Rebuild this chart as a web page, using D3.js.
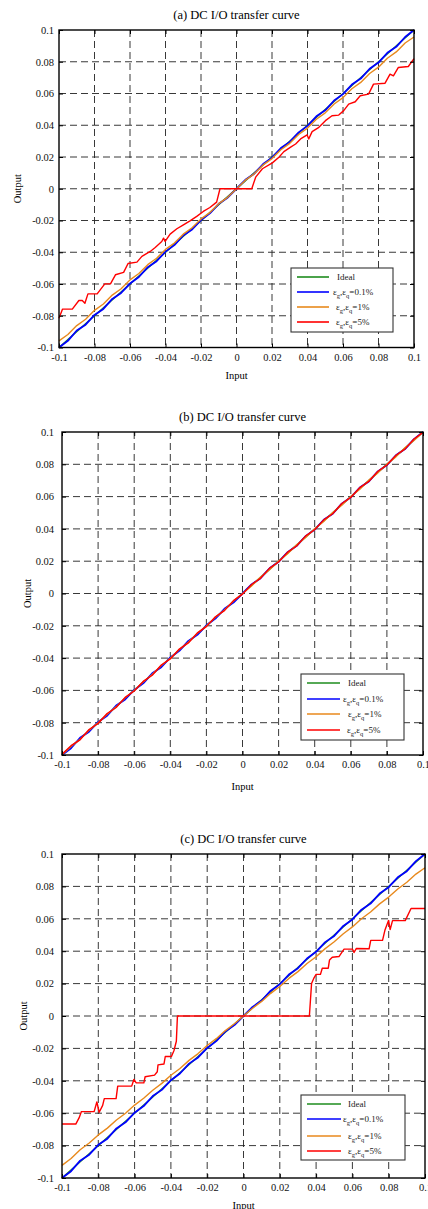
<!DOCTYPE html>
<html>
<head>
<meta charset="utf-8">
<script src="https://cdn.jsdelivr.net/npm/d3@7"></script>
<style>
    body { margin: 0; background: #fff; }
    svg { display: block; }
</style>
</head>
<body>
<div id="chart"></div>
<script>
// axis ticks (same on both axes)
const axisTicks = [-0.1, -0.08, -0.06, -0.04, -0.02, 0, 0.02, 0.04, 0.06, 0.08, 0.1];
const tickLabels = ["-0.1", "-0.08", "-0.06", "-0.04", "-0.02", "0", "0.02", "0.04", "0.06", "0.08", "0.1"];
const gridTicks = [-0.08, -0.06, -0.04, -0.02, 0, 0.02, 0.04, 0.06, 0.08];

const legendNames = ["Ideal", "0.1%", "1%", "5%"];
const seriesColors = ["#1e8c1e", "#0000ff", "#e8891c", "#ff0000"];

// input sweep used by the near-ideal curves
const inputGrid = [-0.1, -0.095, -0.09, -0.085, -0.08, -0.075, -0.07, -0.065, -0.06, -0.055,
    -0.05, -0.045, -0.04, -0.035, -0.03, -0.025, -0.02, -0.015, -0.01, -0.005, 0,
    0.005, 0.01, 0.015, 0.02, 0.025, 0.03, 0.035, 0.04, 0.045, 0.05,
    0.055, 0.06, 0.065, 0.07, 0.075, 0.08, 0.085, 0.09, 0.095, 0.1];

const idealLine = [[-0.1, -0.1], [0.1, 0.1]];

// eps = 0.1% output (all panels)
const out01 = [-0.1, -0.0958, -0.0893, -0.0856, -0.0795, -0.0757, -0.0694, -0.0656, -0.0597, -0.0556,
    -0.0494, -0.0456, -0.0396, -0.0355, -0.0294, -0.0256, -0.0197, -0.0155, -0.0095, -0.0056, 0,
    0.0056, 0.0095, 0.0156, 0.0196, 0.0256, 0.0295, 0.0355, 0.0396, 0.0456, 0.0494,
    0.0556, 0.0596, 0.0656, 0.0694, 0.0756, 0.0795, 0.0856, 0.0894, 0.0956, 0.1];

// (a) eps = 1%
const outA1 = [-0.0958, -0.0918, -0.0862, -0.0822, -0.0766, -0.0726, -0.067, -0.063, -0.0574, -0.0534,
    -0.0478, -0.0438, -0.0382, -0.0342, -0.0286, -0.0246, -0.019, -0.015, -0.0094, -0.0054, 0,
    0.0054, 0.0094, 0.015, 0.019, 0.0246, 0.0286, 0.0342, 0.0382, 0.0438, 0.0478,
    0.0534, 0.0574, 0.063, 0.067, 0.0726, 0.0766, 0.0822, 0.0862, 0.0918, 0.0956];

// (a) eps = 5%  [input, output]
const outA5 = [
    [-0.1, -0.0815], [-0.098, -0.0758], [-0.0925, -0.0758], [-0.0888, -0.0704], [-0.0869, -0.0704],
    [-0.0854, -0.0721], [-0.0837, -0.0662], [-0.0785, -0.0662], [-0.0742, -0.0599], [-0.071, -0.0599],
    [-0.0682, -0.0542], [-0.0636, -0.0527], [-0.0611, -0.0471], [-0.0561, -0.0462], [-0.0533, -0.0426],
    [-0.0486, -0.0395], [-0.0458, -0.037], [-0.0421, -0.0332], [-0.0411, -0.0311], [-0.0402, -0.0332],
    [-0.0374, -0.0286], [-0.0336, -0.0252], [-0.0299, -0.0227], [-0.0262, -0.0202], [-0.0224, -0.0174],
    [-0.0187, -0.0143], [-0.015, -0.0118], [-0.0112, -0.0084], [-0.0093, 0], [0.0086, 0],
    [0.0108, 0.0073], [0.0146, 0.0126], [0.0202, 0.0163], [0.0239, 0.0199], [0.0267, 0.0234],
    [0.0305, 0.0262], [0.0333, 0.0282], [0.0361, 0.0314], [0.0398, 0.0339], [0.0407, 0.0314],
    [0.0426, 0.036], [0.0464, 0.0387], [0.0501, 0.0429], [0.0538, 0.046], [0.0576, 0.0464],
    [0.0604, 0.0492], [0.0632, 0.0533], [0.0669, 0.0548], [0.0697, 0.0586], [0.0744, 0.0596],
    [0.0772, 0.0659], [0.0837, 0.0665], [0.0865, 0.0722], [0.0884, 0.0711], [0.0912, 0.0764],
    [0.0968, 0.077], [0.1, 0.082]
];

// (b) eps = 1% and 5%
const outB1 = [-0.0998, -0.0947, -0.0902, -0.0846, -0.0801, -0.0748, -0.0702, -0.0646, -0.0601, -0.0547,
    -0.0502, -0.0446, -0.0401, -0.0347, -0.0302, -0.0246, -0.0201, -0.0147, -0.0102, -0.0046, 0,
    0.0046, 0.0102, 0.0147, 0.0201, 0.0246, 0.0302, 0.0347, 0.0401, 0.0446, 0.0502,
    0.0547, 0.0601, 0.0646, 0.0702, 0.0747, 0.0801, 0.0846, 0.0902, 0.0947, 0.0998];
const outB5 = [-0.0995, -0.0942, -0.0906, -0.0842, -0.0805, -0.0743, -0.0706, -0.0643, -0.0604, -0.0544,
    -0.0506, -0.0443, -0.0405, -0.0344, -0.0306, -0.0244, -0.0205, -0.0144, -0.0106, -0.0044, -0.0004,
    0.0056, 0.0094, 0.0157, 0.0195, 0.0256, 0.0294, 0.0357, 0.0395, 0.0456, 0.0494,
    0.0557, 0.0595, 0.0656, 0.0694, 0.0757, 0.0795, 0.0856, 0.0894, 0.0957, 0.0998];

// (c) eps = 1%
const outC1 = [-0.0922, -0.088, -0.0826, -0.0784, -0.0734, -0.0692, -0.0642, -0.06, -0.055, -0.0508,
    -0.0458, -0.0416, -0.0366, -0.0324, -0.0274, -0.0232, -0.0182, -0.014, -0.009, -0.0048, 0,
    0.0048, 0.009, 0.014, 0.0182, 0.0232, 0.0274, 0.0324, 0.0366, 0.0416, 0.0458,
    0.0508, 0.055, 0.06, 0.0642, 0.0692, 0.0734, 0.0784, 0.0826, 0.0876, 0.0915];

// (c) eps = 5%  [input, output]
const outC5 = [
    [-0.1, -0.0667], [-0.0924, -0.0667], [-0.0906, -0.0629], [-0.0893, -0.059], [-0.0823, -0.059],
    [-0.0808, -0.0531], [-0.0795, -0.0594], [-0.0776, -0.0552], [-0.0767, -0.051], [-0.0702, -0.051],
    [-0.0693, -0.0433], [-0.0616, -0.0433], [-0.0604, -0.0392], [-0.0591, -0.0413], [-0.0549, -0.0413],
    [-0.0542, -0.0375], [-0.049, -0.0365], [-0.0475, -0.0344], [-0.0471, -0.0302], [-0.0438, -0.0296],
    [-0.0431, -0.025], [-0.0397, -0.025], [-0.0383, -0.0213], [-0.037, -0.0156], [-0.0364, 0],
    [0.0363, 0], [0.0375, 0.0201], [0.0387, 0.0232], [0.04, 0.0257], [0.0424, 0.0257],
    [0.0434, 0.0295], [0.0467, 0.0295], [0.0474, 0.0346], [0.0489, 0.0363], [0.0526, 0.0367],
    [0.0554, 0.0413], [0.06, 0.0413], [0.0609, 0.0392], [0.0622, 0.0417], [0.0692, 0.0415],
    [0.0701, 0.0467], [0.0766, 0.0467], [0.078, 0.0533], [0.0799, 0.0589], [0.0808, 0.0533],
    [0.0821, 0.0589], [0.0891, 0.0589], [0.0923, 0.0664], [0.1, 0.0664]
];

const zipGrid = ys => inputGrid.map((x, i) => [x, ys[i]]);

const W = 428, H = 1209;
const FONT = "'Liberation Serif', 'Times New Roman', serif";

const svg = d3.select("#chart").append("svg")
    .attr("width", W)
    .attr("height", H)
    .style("font-family", FONT);

function drawPanel(p) {
    const x = d3.scaleLinear().domain([-0.1, 0.1]).range([p.left, p.right]);
    const y = d3.scaleLinear().domain([-0.1, 0.1]).range([p.bottom, p.top]);
    const g = svg.append("g");

    // title
    g.append("text")
        .attr("x", (p.left + p.right) / 2)
        .attr("y", p.top - 11)
        .attr("text-anchor", "middle")
        .attr("font-size", 12.5)
        .text(p.title);

    // dashed grid
    g.selectAll(".vgrid").data(gridTicks).enter().append("line")
        .attr("x1", d => x(d)).attr("x2", d => x(d))
        .attr("y1", p.top).attr("y2", p.bottom)
        .attr("stroke", "#222").attr("stroke-width", 0.9)
        .attr("stroke-dasharray", "7,4");
    g.selectAll(".hgrid").data(gridTicks).enter().append("line")
        .attr("x1", p.left).attr("x2", p.right)
        .attr("y1", d => y(d)).attr("y2", d => y(d))
        .attr("stroke", "#222").attr("stroke-width", 0.9)
        .attr("stroke-dasharray", "7,4");

    // curves
    const line = d3.line().x(d => x(d[0])).y(d => y(d[1]));
    p.series.forEach((s, i) => {
        g.append("path")
            .datum(s)
            .attr("fill", "none")
            .attr("stroke", seriesColors[i])
            .attr("stroke-width", i === 1 ? 1.8 : 1.4)
            .attr("stroke-linejoin", "round")
            .attr("d", line);
    });

    // axes
    const xAxis = g.append("g")
        .attr("transform", `translate(0,${p.bottom})`)
        .call(d3.axisBottom(x).tickValues(axisTicks)
            .tickFormat((d, i) => tickLabels[i])
            .tickSizeInner(-4).tickSizeOuter(0).tickPadding(6));
    const yAxis = g.append("g")
        .attr("transform", `translate(${p.left},0)`)
        .call(d3.axisLeft(y).tickValues(axisTicks)
            .tickFormat((d, i) => tickLabels[i])
            .tickSizeInner(-4).tickSizeOuter(0).tickPadding(p.yPad));
    g.append("g")
        .attr("transform", `translate(0,${p.top})`)
        .call(d3.axisTop(x).tickValues(axisTicks).tickFormat("").tickSizeInner(-4).tickSizeOuter(0));
    g.append("g")
        .attr("transform", `translate(${p.right},0)`)
        .call(d3.axisRight(y).tickValues(axisTicks).tickFormat("").tickSizeInner(-4).tickSizeOuter(0));

    [xAxis, yAxis].forEach(a => {
        a.attr("font-family", FONT).attr("font-size", 10.5);
        a.selectAll("text").attr("fill", "#111");
    });
    g.selectAll(".domain").remove();
    g.selectAll(".tick line").attr("stroke", "#000");

    g.append("rect")
        .attr("x", p.left).attr("y", p.top)
        .attr("width", p.right - p.left).attr("height", p.bottom - p.top)
        .attr("fill", "none").attr("stroke", "#000").attr("stroke-width", 1.4);

    // axis labels
    g.append("text")
        .attr("x", (p.left + p.right) / 2)
        .attr("y", p.bottom + p.xLabelDy)
        .attr("text-anchor", "middle")
        .attr("font-size", 10.5)
        .text("Input");
    g.append("text")
        .attr("transform", `translate(${p.yLabelX},${(p.top + p.bottom) / 2}) rotate(-90)`)
        .attr("text-anchor", "middle")
        .attr("font-size", 10.5)
        .text("Output");

    // legend
    const L = p.legend;
    const lg = g.append("g").attr("transform", `translate(${L.x},${L.y})`);
    lg.append("rect")
        .attr("width", L.w).attr("height", L.h)
        .attr("fill", "#fff").attr("stroke", "#333").attr("stroke-width", 1.1);
    legendNames.forEach((name, i) => {
        const ry = L.rows[i];
        lg.append("line")
            .attr("x1", L.line[0]).attr("x2", L.line[1])
            .attr("y1", ry).attr("y2", ry)
            .attr("stroke", seriesColors[i]).attr("stroke-width", 1.6);
        const t = lg.append("text")
            .attr("x", L.textX[i]).attr("y", ry + 3)
            .attr("font-size", 9).attr("fill", "#222");
        if (i === 0) {
            t.text(name);
        } else {
            t.append("tspan").text("\u03b5");
            t.append("tspan").attr("font-size", 6.5).attr("dy", 2.5).text("g");
            t.append("tspan").attr("dy", -2.5).text(",\u03b5");
            t.append("tspan").attr("font-size", 6.5).attr("dy", 2.5).text("q");
            t.append("tspan").attr("dy", -2.5).text("=" + name);
        }
    });
}

drawPanel({
    title: "(a) DC I/O transfer curve",
    left: 59, right: 414, top: 30, bottom: 347.5,
    yPad: 5, xLabelDy: 31.5, yLabelX: 21,
    series: [idealLine, zipGrid(out01), zipGrid(outA1), outA5],
    legend: { x: 291, y: 268, w: 102, h: 64, rows: [9, 24, 39, 54], line: [6, 38], textX: [46, 42, 45, 45] }
});

drawPanel({
    title: "(b) DC I/O transfer curve",
    left: 62, right: 423, top: 432, bottom: 755,
    yPad: 8, xLabelDy: 35, yLabelX: 31,
    series: [idealLine, zipGrid(out01), zipGrid(outB1), zipGrid(outB5)],
    legend: { x: 301, y: 674, w: 103, h: 66, rows: [9, 25, 40, 56], line: [6, 39], textX: [47, 42, 47, 46] }
});

drawPanel({
    title: "(c) DC I/O transfer curve",
    left: 62, right: 425, top: 854, bottom: 1178,
    yPad: 8, xLabelDy: 31, yLabelX: 27,
    series: [idealLine, zipGrid(out01), zipGrid(outC1), outC5],
    legend: { x: 301, y: 1095, w: 104, h: 65, rows: [9, 24, 41, 56], line: [6, 40], textX: [47, 42, 47, 47] }
});
</script>
</body>
</html>
